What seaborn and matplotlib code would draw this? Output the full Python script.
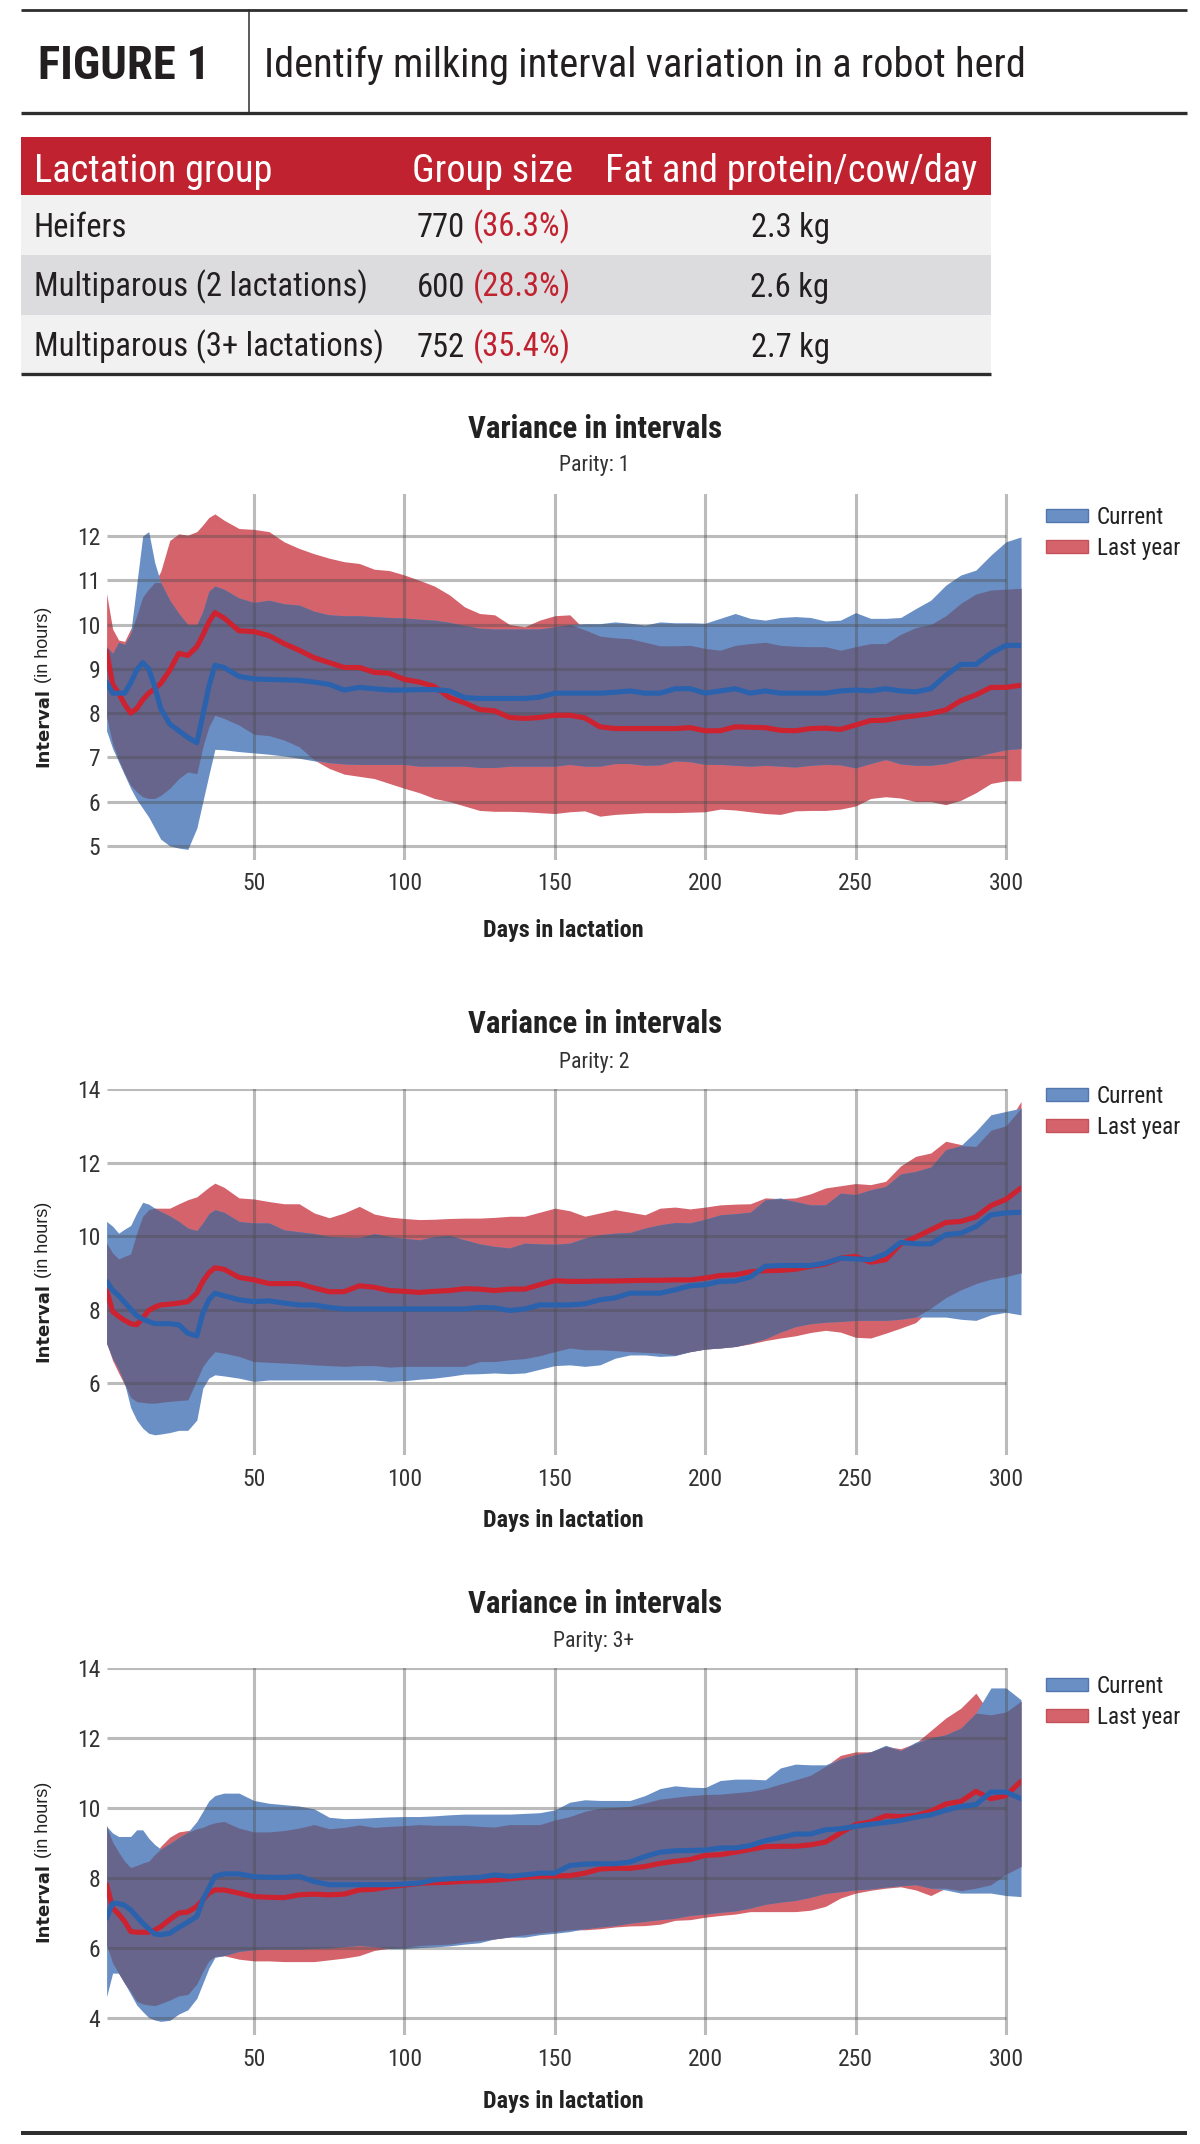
import numpy as np
import pandas as pd
import seaborn as sns
import matplotlib
matplotlib.use("Agg")
import matplotlib.pyplot as plt
from matplotlib import font_manager
from matplotlib.patches import Patch, Rectangle
from matplotlib.lines import Line2D

# table values
groups = ["Heifers", "Multiparous (2 lactations)", "Multiparous (3+ lactations)"]
group_size = [770, 600, 752]
group_share = [36.3, 28.3, 35.4]
fat_protein = [2.3, 2.6, 2.7]

# days in lactation (same grid for every series)
days = [1, 3, 5, 7, 9, 11, 13, 15, 17, 19,
        22, 25, 28, 31, 33, 35, 37, 40, 45, 50,
        55, 60, 65, 70, 75, 80, 85, 90, 95, 100,
        105, 110, 115, 120, 125, 130, 135, 140, 145, 150,
        155, 160, 165, 170, 175, 180, 185, 190, 195, 200,
        205, 210, 215, 220, 225, 230, 235, 240, 245, 250,
        255, 260, 265, 270, 275, 280, 285, 290, 295, 300,
        305]

# parity 1
p1_cur_mean = [8.70, 8.45, 8.45, 8.45, 8.68, 8.97, 9.14, 9.00, 8.60, 8.10,
               7.75, 7.60, 7.45, 7.33, 7.95, 8.60, 9.08, 9.03, 8.83, 8.77,
               8.76, 8.75, 8.74, 8.70, 8.65, 8.52, 8.58, 8.55, 8.52, 8.52,
               8.53, 8.53, 8.50, 8.35, 8.33, 8.33, 8.33, 8.33, 8.36, 8.45,
               8.45, 8.45, 8.45, 8.47, 8.50, 8.45, 8.45, 8.55, 8.55, 8.45,
               8.50, 8.55, 8.45, 8.50, 8.45, 8.45, 8.45, 8.45, 8.50, 8.52,
               8.50, 8.55, 8.50, 8.48, 8.55, 8.85, 9.10, 9.10, 9.35, 9.53,
               9.53]
p1_cur_high = [9.50, 9.35, 9.60, 9.55, 9.80, 10.90, 12.00, 12.10, 11.40, 10.95,
               10.55, 10.25, 10.00, 10.00, 10.30, 10.75, 10.87, 10.80, 10.60, 10.50,
               10.55, 10.47, 10.44, 10.30, 10.22, 10.20, 10.20, 10.18, 10.16, 10.15,
               10.12, 10.10, 10.05, 9.98, 9.92, 9.90, 9.90, 9.90, 9.90, 9.95,
               10.00, 10.02, 10.02, 10.06, 10.03, 9.99, 10.06, 10.04, 10.04, 10.03,
               10.14, 10.25, 10.14, 10.10, 10.16, 10.18, 10.16, 10.08, 10.10, 10.27,
               10.14, 10.14, 10.16, 10.36, 10.55, 10.89, 11.12, 11.23, 11.57, 11.87,
               11.98]
p1_cur_low = [7.60, 7.20, 6.90, 6.60, 6.30, 6.05, 5.85, 5.65, 5.40, 5.15,
              5.00, 4.95, 4.92, 5.40, 6.00, 6.60, 7.18, 7.17, 7.13, 7.10,
              7.07, 7.03, 6.98, 6.92, 6.88, 6.85, 6.84, 6.84, 6.84, 6.84,
              6.80, 6.80, 6.80, 6.80, 6.77, 6.77, 6.80, 6.80, 6.80, 6.80,
              6.84, 6.80, 6.80, 6.86, 6.86, 6.82, 6.83, 6.92, 6.90, 6.84,
              6.84, 6.82, 6.80, 6.82, 6.80, 6.78, 6.82, 6.84, 6.83, 6.76,
              6.86, 6.95, 6.85, 6.82, 6.82, 6.86, 6.95, 7.02, 7.10, 7.17,
              7.20]
p1_ly_mean = [9.40, 8.65, 8.45, 8.20, 8.00, 8.10, 8.30, 8.45, 8.55, 8.67,
              8.97, 9.35, 9.30, 9.50, 9.76, 10.06, 10.27, 10.15, 9.86, 9.84,
              9.75, 9.57, 9.42, 9.25, 9.14, 9.03, 9.03, 8.92, 8.90, 8.76,
              8.70, 8.60, 8.35, 8.23, 8.08, 8.05, 7.90, 7.88, 7.90, 7.95,
              7.95, 7.89, 7.69, 7.65, 7.65, 7.65, 7.65, 7.65, 7.67, 7.60,
              7.60, 7.69, 7.68, 7.67, 7.61, 7.60, 7.65, 7.66, 7.63, 7.73,
              7.83, 7.84, 7.90, 7.94, 7.99, 8.07, 8.28, 8.41, 8.58, 8.58,
              8.63]
p1_ly_high = [10.70, 9.90, 9.65, 9.62, 9.90, 10.20, 10.62, 10.80, 10.95, 11.20,
              11.90, 12.05, 12.02, 12.10, 12.25, 12.42, 12.50, 12.36, 12.17, 12.15,
              12.10, 11.87, 11.72, 11.60, 11.50, 11.42, 11.38, 11.25, 11.22, 11.12,
              11.00, 10.87, 10.67, 10.40, 10.25, 10.22, 10.00, 9.95, 10.10, 10.20,
              10.22, 9.88, 9.74, 9.70, 9.68, 9.60, 9.52, 9.52, 9.53, 9.46,
              9.42, 9.53, 9.57, 9.60, 9.53, 9.51, 9.50, 9.50, 9.42, 9.50,
              9.57, 9.57, 9.78, 9.93, 10.00, 10.20, 10.48, 10.69, 10.78, 10.80,
              10.82]
p1_ly_low = [7.92, 7.31, 6.95, 6.63, 6.37, 6.22, 6.11, 6.07, 6.07, 6.14,
             6.30, 6.52, 6.67, 6.63, 7.24, 7.69, 7.95, 7.88, 7.73, 7.52,
             7.49, 7.39, 7.24, 6.94, 6.75, 6.62, 6.57, 6.52, 6.41, 6.30,
             6.20, 6.07, 6.00, 5.90, 5.80, 5.78, 5.78, 5.77, 5.75, 5.73,
             5.77, 5.79, 5.67, 5.71, 5.73, 5.75, 5.75, 5.75, 5.76, 5.77,
             5.83, 5.81, 5.77, 5.73, 5.71, 5.79, 5.80, 5.80, 5.83, 5.90,
             6.07, 6.11, 6.08, 6.00, 6.00, 5.93, 6.03, 6.20, 6.41, 6.47,
             6.47]

# parity 2
p2_cur_mean = [8.77, 8.53, 8.38, 8.20, 8.02, 7.84, 7.74, 7.68, 7.62, 7.62,
               7.62, 7.59, 7.36, 7.29, 7.91, 8.27, 8.45, 8.38, 8.27, 8.22,
               8.24, 8.18, 8.13, 8.13, 8.06, 8.02, 8.02, 8.02, 8.02, 8.02,
               8.02, 8.02, 8.02, 8.02, 8.06, 8.05, 7.98, 8.02, 8.13, 8.13,
               8.13, 8.16, 8.27, 8.32, 8.45, 8.45, 8.45, 8.54, 8.65, 8.68,
               8.77, 8.78, 8.89, 9.18, 9.20, 9.20, 9.20, 9.27, 9.40, 9.38,
               9.36, 9.52, 9.83, 9.79, 9.79, 10.04, 10.08, 10.26, 10.58, 10.63,
               10.65]
p2_cur_high = [10.40, 10.27, 10.08, 10.19, 10.29, 10.63, 10.92, 10.87, 10.76, 10.67,
               10.55, 10.40, 10.22, 10.15, 10.36, 10.61, 10.72, 10.65, 10.40, 10.36,
               10.36, 10.17, 10.12, 10.07, 9.99, 9.97, 9.96, 10.07, 9.99, 9.94,
               9.90, 9.99, 10.02, 9.90, 9.79, 9.72, 9.68, 9.81, 9.79, 9.78,
               9.81, 9.95, 10.04, 10.08, 10.10, 10.22, 10.31, 10.37, 10.36, 10.46,
               10.58, 10.61, 10.65, 10.99, 11.04, 10.94, 10.85, 10.85, 11.17, 11.13,
               11.26, 11.35, 11.69, 11.76, 11.88, 12.35, 12.46, 12.85, 13.30, 13.39,
               13.48]
p2_cur_low = [7.09, 6.68, 6.38, 5.99, 5.34, 5.00, 4.78, 4.64, 4.60, 4.62,
              4.66, 4.72, 4.72, 5.00, 5.87, 6.14, 6.23, 6.20, 6.14, 6.05,
              6.09, 6.09, 6.09, 6.09, 6.09, 6.09, 6.09, 6.09, 6.05, 6.07,
              6.11, 6.14, 6.19, 6.25, 6.26, 6.28, 6.26, 6.28, 6.38, 6.48,
              6.50, 6.46, 6.50, 6.68, 6.77, 6.77, 6.73, 6.75, 6.86, 6.93,
              6.96, 7.00, 7.09, 7.21, 7.39, 7.54, 7.62, 7.66, 7.68, 7.71,
              7.71, 7.71, 7.74, 7.80, 7.80, 7.80, 7.74, 7.71, 7.86, 7.93,
              7.86]
p2_ly_mean = [8.52, 7.95, 7.82, 7.71, 7.62, 7.59, 7.77, 7.98, 8.07, 8.13,
              8.15, 8.18, 8.22, 8.45, 8.77, 9.00, 9.14, 9.10, 8.88, 8.81,
              8.71, 8.71, 8.71, 8.59, 8.49, 8.49, 8.65, 8.61, 8.52, 8.50,
              8.47, 8.50, 8.52, 8.57, 8.56, 8.52, 8.56, 8.56, 8.68, 8.79,
              8.77, 8.77, 8.78, 8.78, 8.79, 8.80, 8.80, 8.81, 8.81, 8.86,
              8.93, 8.95, 9.03, 9.06, 9.07, 9.10, 9.18, 9.24, 9.40, 9.45,
              9.29, 9.36, 9.79, 9.97, 10.17, 10.37, 10.40, 10.52, 10.83, 11.00,
              11.31]
p2_ly_high = [9.81, 9.54, 9.38, 9.45, 9.52, 10.08, 10.54, 10.72, 10.76, 10.76,
              10.76, 10.88, 10.99, 11.07, 11.20, 11.33, 11.44, 11.33, 11.04, 11.01,
              10.94, 10.88, 10.88, 10.63, 10.50, 10.63, 10.81, 10.60, 10.52, 10.48,
              10.45, 10.46, 10.48, 10.49, 10.49, 10.51, 10.54, 10.54, 10.65, 10.76,
              10.69, 10.54, 10.63, 10.72, 10.65, 10.58, 10.76, 10.79, 10.74, 10.79,
              10.85, 10.87, 10.88, 11.04, 11.02, 11.04, 11.15, 11.31, 11.37, 11.43,
              11.40, 11.49, 11.91, 12.17, 12.26, 12.58, 12.49, 12.44, 12.88, 13.00,
              13.66]
p2_ly_low = [7.09, 6.62, 6.28, 5.96, 5.62, 5.50, 5.48, 5.46, 5.46, 5.48,
             5.51, 5.53, 5.55, 6.09, 6.46, 6.68, 6.86, 6.82, 6.73, 6.59,
             6.57, 6.55, 6.53, 6.50, 6.48, 6.46, 6.48, 6.48, 6.44, 6.46,
             6.46, 6.46, 6.46, 6.46, 6.59, 6.59, 6.64, 6.67, 6.75, 6.86,
             6.96, 6.91, 6.91, 6.89, 6.86, 6.84, 6.82, 6.77, 6.86, 6.93,
             6.96, 7.00, 7.07, 7.16, 7.23, 7.29, 7.38, 7.44, 7.39, 7.25,
             7.23, 7.36, 7.50, 7.65, 8.04, 8.33, 8.54, 8.71, 8.83, 8.90,
             9.00]

# parity 3+
p3_cur_mean = [6.84, 7.27, 7.26, 7.21, 7.08, 6.89, 6.70, 6.54, 6.39, 6.37,
               6.41, 6.58, 6.73, 6.89, 7.37, 7.70, 8.04, 8.11, 8.11, 8.03,
               8.01, 8.01, 8.04, 7.89, 7.80, 7.80, 7.80, 7.80, 7.80, 7.82,
               7.85, 7.94, 7.97, 7.99, 8.01, 8.08, 8.04, 8.08, 8.13, 8.13,
               8.35, 8.39, 8.40, 8.40, 8.45, 8.61, 8.73, 8.77, 8.78, 8.79,
               8.85, 8.85, 8.92, 9.06, 9.15, 9.25, 9.25, 9.37, 9.40, 9.47,
               9.53, 9.58, 9.64, 9.73, 9.80, 9.93, 10.04, 10.09, 10.45, 10.45,
               10.26]
p3_cur_high = [9.47, 9.28, 9.18, 9.18, 9.18, 9.37, 9.37, 9.13, 8.95, 8.82,
               8.98, 9.15, 9.30, 9.61, 9.90, 10.20, 10.35, 10.42, 10.42, 10.21,
               10.13, 10.09, 10.05, 9.97, 9.73, 9.69, 9.70, 9.72, 9.74, 9.75,
               9.75, 9.77, 9.80, 9.82, 9.82, 9.82, 9.82, 9.84, 9.86, 9.94,
               10.16, 10.23, 10.21, 10.21, 10.21, 10.35, 10.55, 10.63, 10.59, 10.58,
               10.78, 10.82, 10.82, 10.80, 11.14, 11.25, 11.23, 11.23, 11.40, 11.52,
               11.60, 11.79, 11.64, 11.88, 12.00, 12.09, 12.28, 12.71, 13.43, 13.43,
               13.09]
p3_cur_low = [4.60, 5.27, 5.27, 4.98, 4.67, 4.36, 4.17, 4.00, 3.93, 3.89,
              3.92, 4.10, 4.22, 4.55, 4.98, 5.41, 5.72, 5.77, 5.89, 5.94,
              5.96, 5.96, 5.96, 5.98, 5.99, 6.03, 6.06, 6.03, 5.97, 5.97,
              6.00, 6.02, 6.05, 6.10, 6.14, 6.25, 6.30, 6.30, 6.37, 6.41,
              6.46, 6.54, 6.59, 6.63, 6.70, 6.75, 6.80, 6.84, 6.92, 6.96,
              7.01, 7.05, 7.13, 7.24, 7.30, 7.35, 7.44, 7.55, 7.60, 7.65,
              7.68, 7.73, 7.77, 7.80, 7.70, 7.65, 7.56, 7.56, 7.56, 7.49,
              7.46]
p3_ly_mean = [7.80, 7.13, 6.96, 6.75, 6.46, 6.44, 6.44, 6.44, 6.50, 6.60,
              6.80, 6.99, 7.02, 7.18, 7.37, 7.56, 7.65, 7.65, 7.56, 7.46,
              7.44, 7.43, 7.51, 7.53, 7.51, 7.53, 7.65, 7.67, 7.74, 7.79,
              7.84, 7.86, 7.87, 7.90, 7.91, 7.93, 7.97, 8.01, 8.04, 8.05,
              8.06, 8.13, 8.25, 8.27, 8.27, 8.32, 8.41, 8.47, 8.52, 8.64,
              8.66, 8.73, 8.81, 8.89, 8.90, 8.90, 8.94, 9.02, 9.28, 9.52,
              9.60, 9.77, 9.75, 9.78, 9.90, 10.11, 10.18, 10.47, 10.26, 10.35,
              10.76]
p3_ly_high = [9.50, 9.02, 8.73, 8.47, 8.29, 8.35, 8.42, 8.47, 8.66, 8.90,
              9.16, 9.31, 9.35, 9.40, 9.44, 9.52, 9.57, 9.61, 9.42, 9.31,
              9.31, 9.35, 9.42, 9.52, 9.40, 9.44, 9.51, 9.44, 9.47, 9.49,
              9.52, 9.50, 9.50, 9.50, 9.47, 9.45, 9.52, 9.52, 9.52, 9.65,
              9.75, 9.90, 9.99, 10.01, 10.04, 10.14, 10.25, 10.30, 10.35, 10.38,
              10.39, 10.43, 10.47, 10.55, 10.68, 10.80, 10.93, 11.19, 11.50, 11.60,
              11.60, 11.76, 11.69, 11.85, 12.21, 12.57, 12.85, 13.28, 12.66, 12.74,
              13.05]
p3_ly_low = [6.08, 5.56, 5.27, 4.98, 4.74, 4.46, 4.39, 4.36, 4.34, 4.40,
             4.50, 4.62, 4.66, 4.96, 5.32, 5.62, 5.75, 5.77, 5.67, 5.62,
             5.62, 5.60, 5.60, 5.60, 5.65, 5.70, 5.77, 5.92, 5.98, 6.01,
             6.06, 6.08, 6.10, 6.16, 6.20, 6.25, 6.31, 6.37, 6.42, 6.46,
             6.51, 6.51, 6.54, 6.59, 6.62, 6.63, 6.67, 6.78, 6.80, 6.87,
             6.92, 6.96, 7.03, 7.03, 7.03, 7.03, 7.07, 7.18, 7.42, 7.56,
             7.64, 7.70, 7.74, 7.65, 7.49, 7.70, 7.63, 7.70, 7.80, 8.10,
             8.32]

parities = ["Parity: 1", "Parity: 2", "Parity: 3+"]
x_ticks = [50, 100, 150, 200, 250, 300]

# colours
INK = "#231f20"
TABLE_RED = "#c1222f"
BLUE_FILL = "#6a8fc4"
RED_FILL = "#d4636b"
PURPLE = "#67658c"
BLUE_LINE = "#2b62ad"
RED_LINE = "#cd2230"
GRID = "#4c4c4c"


def pick_font(cands):
    have = {f.name for f in font_manager.fontManager.ttflist}
    for c in cands:
        if c in have:
            return c
    return "DejaVu Sans"


COND = pick_font(["Roboto Condensed", "Liberation Sans Narrow", "DejaVu Sans Condensed",
                  "Open Sans Condensed", "Roboto"])
SANS = pick_font(["Liberation Sans", "Roboto", "DejaVu Sans"])

sns.set_theme(style="white")
plt.rcParams["font.family"] = [COND, "DejaVu Sans"]

W, H = 1200, 2144
fig = plt.figure(figsize=(W / 100, H / 100), dpi=100)
fig.patch.set_facecolor("white")
rend = fig.canvas.get_renderer()


def fx(px):
    return px / W


def fy(py):
    return 1 - py / H


def fit(t, target, dim="w"):
    bb = t.get_window_extent(rend)
    cur = bb.width if dim == "w" else bb.height
    t.set_fontsize(t.get_fontsize() * target / cur)
    return t.get_fontsize()


def label(x, yc, s, target=None, size=20, ha="left", **kw):
    # yc is the centre of the capitals, in pixels from the top
    t = fig.text(fx(x), fy(yc), s, ha=ha, va="baseline", fontsize=size, **kw)
    if target:
        fit(t, target)
    t.set_y(fy(yc + 0.355 * t.get_fontsize() * 100 / 72))
    return t


def rule(x0, x1, y, px, color="#2e2e2e"):
    fig.add_artist(Line2D([fx(x0), fx(x1)], [fy(y), fy(y)], lw=px * 0.72,
                          color=color, solid_capstyle="butt"))


def text_width(s, size, **kw):
    tmp = fig.text(0, 0, s, fontsize=size, **kw)
    w = tmp.get_window_extent(rend).width
    tmp.remove()
    return w


# y-axis label pieces: wide bold "Interval" + regular "(in hours)", measured unrotated
YL_PARTS = (("Interval", "DejaVu Sans", "bold"), ("(in hours)", SANS, "normal"))
_w = [text_width(s, 12, family=fam, weight=wt) for s, fam, wt in YL_PARTS]
_gap = 0.28 * 12 * 100 / 72
ylab_fs = 12 * 160 / (sum(_w) + _gap)
ylab_len = [w * ylab_fs / 12 for w in _w]
ylab_gap = _gap * ylab_fs / 12


def y_label(yc, base_x=48):
    y0 = yc + (sum(ylab_len) + ylab_gap) / 2  # bottom end, px from top
    starts = [y0, y0 - ylab_len[0] - ylab_gap]
    for (s, fam, wt), ys in zip(YL_PARTS, starts):
        fig.text(fx(base_x), fy(ys), s, rotation=90, rotation_mode="anchor",
                 ha="left", va="baseline", family=fam, weight=wt,
                 fontsize=ylab_fs, color="#222222")


# header
rule(21, 1187, 10, 2.8)
rule(21, 1187, 113, 3.3)
fig.add_artist(Line2D([fx(249), fx(249)], [fy(10), fy(113)], lw=1.1, color="#2e2e2e"))
label(38, 62, "FIGURE 1", target=172, weight="heavy", color=INK)
label(264, 63, "Identify milking interval variation in a robot herd", target=757, color=INK)

# table
fig.add_artist(Rectangle((fx(21), fy(195)), fx(991) - fx(21), 58 / H, color=TABLE_RED, lw=0))
row_tops = [195, 255, 315]
row_fill = ["#f1f1f1", "#dcdcde", "#f1f1f1"]
for top, c in zip(row_tops, row_fill):
    fig.add_artist(Rectangle((fx(21), fy(top + 60)), fx(991) - fx(21), 60 / H, color=c, lw=0))
rule(21, 991, 374, 3.3)

h = label(605, 168, "Fat and protein/cow/day", target=371, color="white")
head_fs = h.get_fontsize()
label(34, 168, "Lactation group", size=head_fs, color="white")
label(412, 168, "Group size", size=head_fs, color="white")

t = label(34, 345, groups[2], target=348, color=INK)
row_fs = t.get_fontsize()
row_centres = [225, 285, 345]
for i, yc in enumerate(row_centres):
    if i != 2:
        label(34, yc, groups[i], size=row_fs, color=INK)
    n = label(417, yc, f"{group_size[i]}", size=row_fs, color=INK)
    x_end = n.get_window_extent(rend).x1
    label(x_end + 8, yc, f"({group_share[i]:.1f}%)", size=row_fs, color=TABLE_RED)
    label(790, yc, f"{fat_protein[i]:.1f} kg", size=row_fs, color=INK, ha="center")

# font sizes for chart texts
tick_fs = 12 * 34.5 / text_width("300", 12)
leg_fs = 12 * 67 / text_width("Current", 12)
sub_fs = 12 * 70 / text_width(parities[0], 12)

charts = [
    dict(title_y=427, sub_y=463, top=494, bottom=860, ylim=(4.68, 12.95),
         yticks=[5, 6, 7, 8, 9, 10, 11, 12], leg_y=514, xlab_y=928,
         data=(p1_cur_mean, p1_cur_low, p1_cur_high, p1_ly_mean, p1_ly_low, p1_ly_high)),
    dict(title_y=1022, sub_y=1060, top=1089, bottom=1455, ylim=(4.05, 14.0),
         yticks=[6, 8, 10, 12, 14], leg_y=1093, xlab_y=1518,
         data=(p2_cur_mean, p2_cur_low, p2_cur_high, p2_ly_mean, p2_ly_low, p2_ly_high)),
    dict(title_y=1602, sub_y=1639, top=1668, bottom=2035, ylim=(3.5, 14.0),
         yticks=[4, 6, 8, 10, 12, 14], leg_y=1683, xlab_y=2099,
         data=(p3_cur_mean, p3_cur_low, p3_cur_high, p3_ly_mean, p3_ly_low, p3_ly_high)),
]

ax_left, ax_right = 106.6, 1021.0
leg_px = leg_fs * 100 / 72

for k, cfg in enumerate(charts):
    cur_mean, cur_low, cur_high, ly_mean, ly_low, ly_high = [np.array(a) for a in cfg["data"]]
    ax = fig.add_axes([fx(ax_left), fy(cfg["bottom"]), (ax_right - ax_left) / W,
                       (cfg["bottom"] - cfg["top"]) / H])
    ax.set_facecolor("none")

    # bands: last year, current, and their overlap
    ax.fill_between(days, ly_low, ly_high, color=RED_FILL, lw=0, zorder=1)
    ax.fill_between(days, cur_low, cur_high, color=BLUE_FILL, lw=0, zorder=1.1)
    ov_lo = np.maximum(cur_low, ly_low)
    ov_hi = np.minimum(cur_high, ly_high)
    ax.fill_between(days, ov_lo, ov_hi, where=ov_hi > ov_lo, interpolate=True,
                    color=PURPLE, lw=0, zorder=1.2)

    # grid drawn over the bands, semi transparent
    ax.hlines(cfg["yticks"], 1, 300, color=GRID, alpha=0.38, lw=2.2, zorder=2)
    for xv in x_ticks:
        ax.axvline(xv, color=GRID, alpha=0.38, lw=2.2, zorder=2)

    df = pd.DataFrame({
        "day": days * 2,
        "hours": list(ly_mean) + list(cur_mean),
        "series": ["Last year"] * len(days) + ["Current"] * len(days),
    })
    sns.lineplot(data=df, x="day", y="hours", hue="series",
                 hue_order=["Last year", "Current"],
                 palette={"Current": BLUE_LINE, "Last year": RED_LINE},
                 linewidth=3.7, legend=False, ax=ax, zorder=4,
                 solid_joinstyle="round", solid_capstyle="round")

    ax.set_xlim(1, 305)
    ax.set_ylim(*cfg["ylim"])
    ax.set_xticks(x_ticks)
    ax.set_yticks(cfg["yticks"])
    ax.set(xlabel="", ylabel="")
    sns.despine(ax=ax, left=True, bottom=True)
    ax.tick_params(axis="both", length=0, labelsize=tick_fs, colors="#333333")
    ax.tick_params(axis="x", pad=9)
    ax.tick_params(axis="y", pad=4.5)

    leg = ax.legend(
        handles=[Patch(facecolor=BLUE_FILL, edgecolor="#5277b0", lw=1, label="Current"),
                 Patch(facecolor=RED_FILL, edgecolor="#c5525b", lw=1, label="Last year")],
        loc="upper left", bbox_to_anchor=(fx(1046), fy(cfg["leg_y"] - 0.62 * leg_px + 6)),
        bbox_transform=fig.transFigure, frameon=False, fontsize=leg_fs,
        handlelength=42 / leg_px, handleheight=10 / leg_px, handletextpad=9 / leg_px,
        labelspacing=(35 - 1.17 * leg_px) / leg_px, borderpad=0, borderaxespad=0)
    for txt in leg.get_texts():
        txt.set_color("#222222")

    label(595, cfg["title_y"], "Variance in intervals", target=253, weight="bold",
          ha="center", color="#222222")
    label(594, cfg["sub_y"], parities[k], size=sub_fs, ha="center", color="#333333")
    label(563, cfg["xlab_y"], "Days in lactation", target=161, weight="bold",
          ha="center", color="#222222")
    y_label((cfg["top"] + cfg["bottom"]) / 2 + 10)

rule(21, 1187, 2133, 4.0)

fig.savefig("out.png", dpi=100, facecolor="white")
